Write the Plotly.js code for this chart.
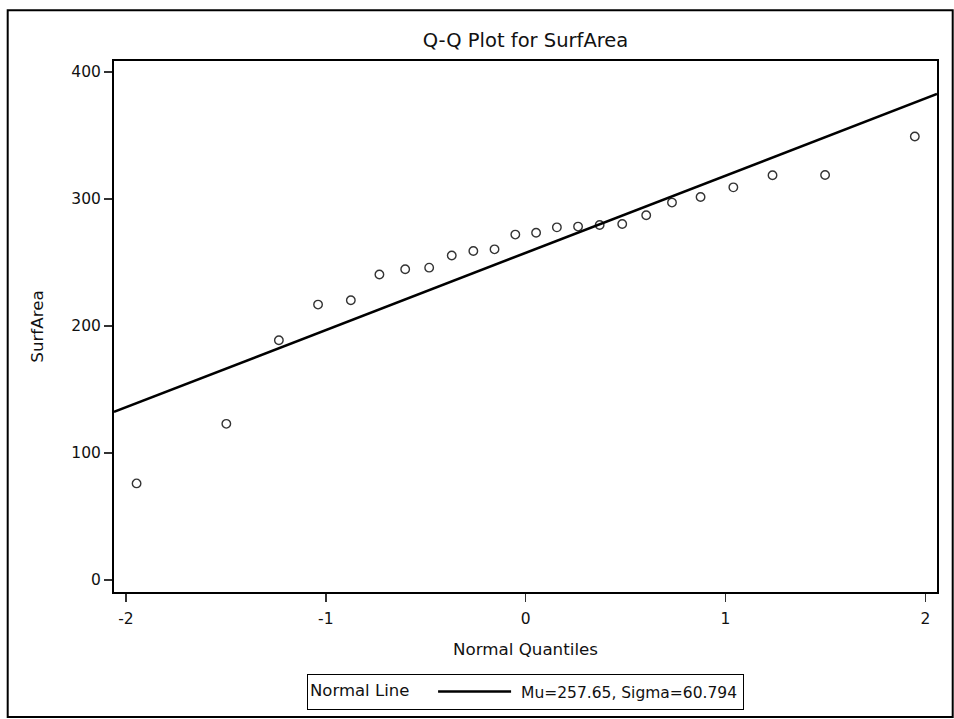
<!DOCTYPE html>
<html>
<head>
<meta charset="utf-8">
<script src="https://cdn.plot.ly/plotly-3.0.1.min.js"></script>
<style>
  html, body { margin: 0; padding: 0; background: #fff; }
  #chart { width: 954px; height: 719px; }
</style>
</head>
<body>
<div id="chart"></div>
<script>
// Data
const normalQuantiles = [-1.947, -1.498, -1.235, -1.039, -0.875, -0.732, -0.603, -0.483, -0.370, -0.262, -0.156, -0.052,
                          0.052, 0.156, 0.262, 0.370, 0.483, 0.603, 0.732, 0.875, 1.039, 1.235, 1.498, 1.947];
const surfArea = [76.1, 123.0, 188.8, 216.9, 220.3, 240.6, 244.7, 246.0, 255.5, 259.1, 260.4, 272.0,
                  273.5, 277.7, 278.3, 279.6, 280.3, 287.2, 297.2, 301.6, 309.2, 318.7, 318.9, 349.3];
const mu = 257.65;
const sigma = 60.794;
const xTickVals = [-2, -1, 0, 1, 2];
const yTickVals = [0, 100, 200, 300, 400];
const xRange = [-2.06, 2.058];
const yRange = [-9.4, 408.7];

const lineX = xRange.slice();
const lineY = lineX.map(q => mu + sigma * q);

const FONT = 'DejaVu Sans, Arial, sans-serif';

const traces = [
  {
    x: normalQuantiles, y: surfArea, type: 'scatter', mode: 'markers',
    marker: { symbol: 'circle-open', size: 8.5, color: '#333', line: { width: 1.4, color: '#333' } },
    showlegend: false, hoverinfo: 'x+y'
  },
  {
    x: lineX, y: lineY, type: 'scatter', mode: 'lines',
    line: { color: '#000', width: 2.6 },
    name: '&nbsp;Mu=' + mu + ', Sigma=' + sigma, showlegend: true
  }
];

const L = 114.3, R = 937.3, T = 60.7, B = 592;
const W = 954, H = 719;
const pw = R - L, ph = B - T;
function px(x) { return (x - L) / pw; }
function py(y) { return (B - y) / ph; }

const layout = {
  width: W, height: H,
  margin: { l: L, r: W - R, t: T, b: H - B, autoexpand: false },
  paper_bgcolor: '#fff', plot_bgcolor: '#fff',
  font: { family: FONT, color: '#111', size: 15 },
  title: {
    text: 'Q-Q Plot for SurfArea',
    font: { family: FONT, size: 19.5, color: '#111' },
    x: 0.5, xref: 'paper', xanchor: 'center',
    y: 1 - 40 / H, yref: 'container', yanchor: 'middle'
  },
  xaxis: {
    range: xRange, tickvals: xTickVals, ticktext: xTickVals.map(String),
    ticks: 'outside', ticklen: 8, tickwidth: 1.5, tickcolor: '#333',
    showline: true, linecolor: '#000', linewidth: 2, mirror: true,
    showgrid: false, zeroline: false, ticklabelstandoff: 3,
    tickfont: { family: FONT, size: 15.5, color: '#111' },
    title: { text: 'Normal Quantiles', font: { family: FONT, size: 16.7, color: '#111' }, standoff: 17 },
    automargin: false
  },
  yaxis: {
    range: yRange, tickvals: yTickVals, ticktext: yTickVals.map(String),
    ticks: 'outside', ticklen: 8, tickwidth: 1.5, tickcolor: '#333',
    showline: true, linecolor: '#000', linewidth: 2, mirror: true,
    showgrid: false, zeroline: false,
    tickfont: { family: FONT, size: 15.5, color: '#111' },
    title: { text: 'SurfArea', font: { family: FONT, size: 16.7, color: '#111' }, standoff: 23 },
    automargin: false
  },
  showlegend: true,
  legend: {
    x: 0.5, xanchor: 'center', xref: 'paper',
    y: py(674), yanchor: 'top', yref: 'paper',
    orientation: 'h',
    bordercolor: '#000', borderwidth: 1, bgcolor: '#fff',
    font: { family: FONT, size: 15.5, color: '#111' },
    title: { text: 'Normal Line&nbsp;&nbsp;&nbsp;', side: 'left', font: { family: FONT, size: 16.5, color: '#111' } },
    itemwidth: 73
  },
  shapes: [
    {
      type: 'rect', xref: 'paper', yref: 'paper',
      x0: px(8), x1: px(953), y0: py(717), y1: py(10),
      line: { color: '#000', width: 2 }, fillcolor: 'rgba(0,0,0,0)', layer: 'below'
    }
  ]
};

Plotly.newPlot('chart', traces, layout, { staticPlot: true, displayModeBar: false });
</script>
</body>
</html>
